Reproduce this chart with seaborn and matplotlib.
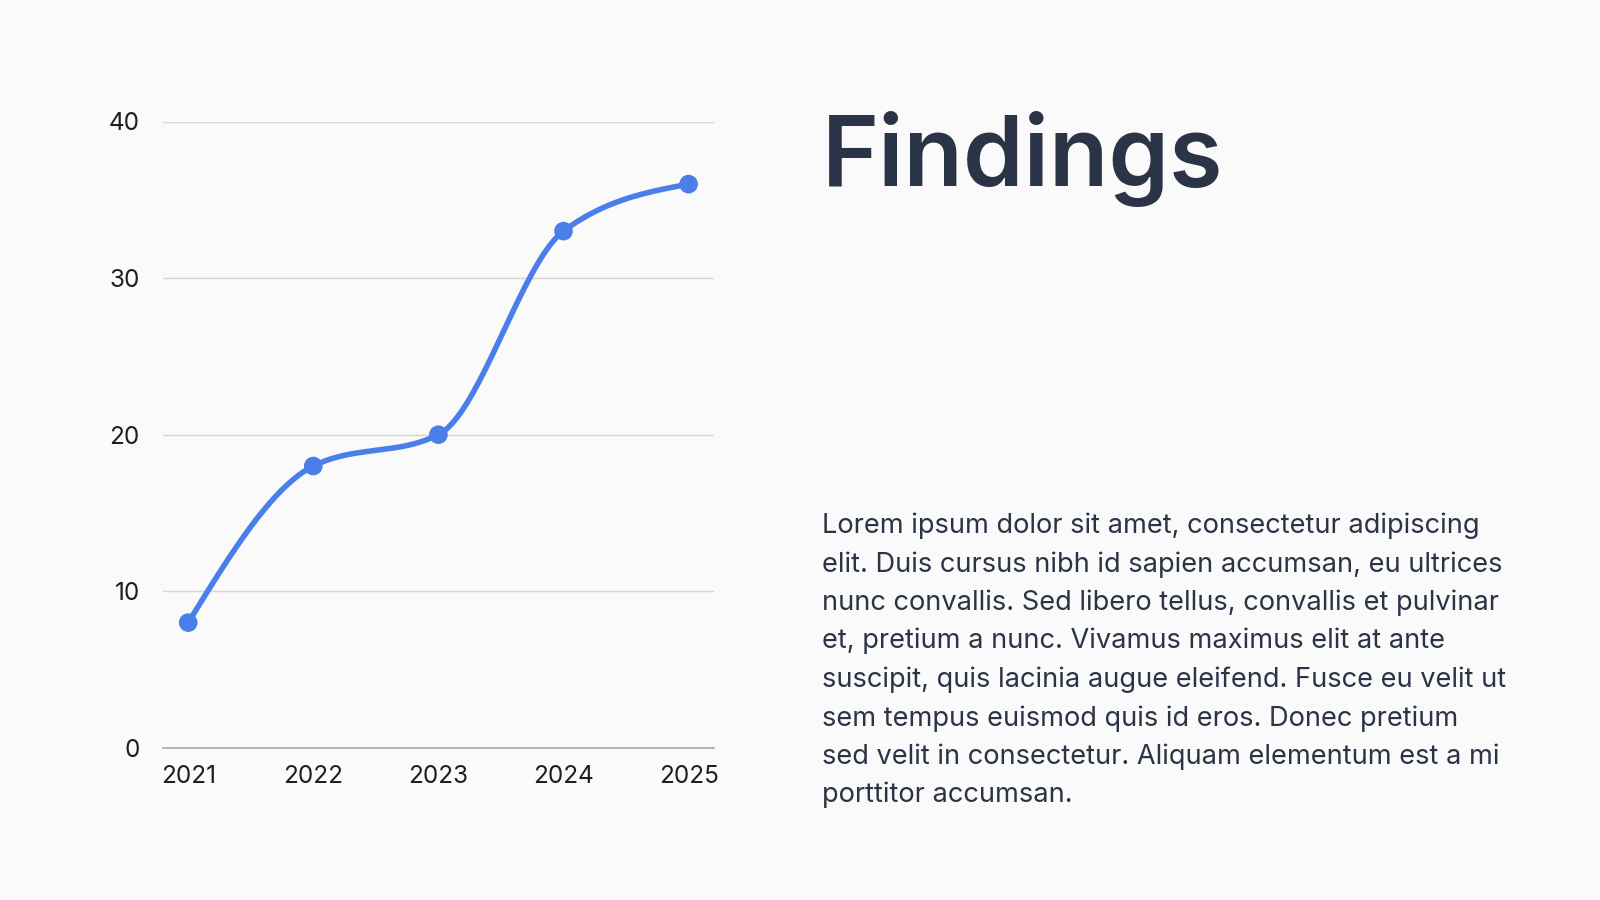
import matplotlib.pyplot as plt
import numpy as np
import seaborn as sns

years = ["2021", "2022", "2023", "2024", "2025"]
values = [8, 18, 20, 33, 36]
y_ticks = [0, 10, 20, 30, 40]

title = "Findings"
body_lines = [
    "Lorem ipsum dolor sit amet, consectetur adipiscing",
    "elit. Duis cursus nibh id sapien accumsan, eu ultrices",
    "nunc convallis. Sed libero tellus, convallis et pulvinar",
    "et, pretium a nunc. Vivamus maximus elit at ante",
    "suscipit, quis lacinia augue eleifend. Fusce eu velit ut",
    "sem tempus euismod quis id eros. Donec pretium",
    "sed velit in consectetur. Aliquam elementum est a mi",
    "porttitor accumsan.",
]

BG = "#fafafa"
LINE = "#4a7fea"
TEXT = "#2b3446"


def monotone_curve(x, y, steps=40):
    # monotone cubic (same idea as d3 curveMonotoneX) just for drawing the smooth line
    x = np.asarray(x, float)
    y = np.asarray(y, float)
    h = np.diff(x)
    s = np.diff(y) / h
    t = np.zeros_like(y)
    for i in range(1, len(x) - 1):
        p = (s[i - 1] * h[i] + s[i] * h[i - 1]) / (h[i - 1] + h[i])
        if s[i - 1] * s[i] <= 0:
            t[i] = 0
        else:
            t[i] = (np.sign(s[i - 1]) + np.sign(s[i])) * min(abs(s[i - 1]), abs(s[i]), 0.5 * abs(p))
    t[0] = (3 * s[0] - t[1]) / 2
    t[-1] = (3 * s[-1] - t[-2]) / 2
    xs, ys = [], []
    for i in range(len(x) - 1):
        u = np.linspace(0, 1, steps, endpoint=(i == len(x) - 2))
        h00 = 2 * u**3 - 3 * u**2 + 1
        h10 = u**3 - 2 * u**2 + u
        h01 = -2 * u**3 + 3 * u**2
        h11 = u**3 - u**2
        xs.append(x[i] + u * h[i])
        ys.append(h00 * y[i] + h10 * h[i] * t[i] + h01 * y[i + 1] + h11 * h[i] * t[i + 1])
    return np.concatenate(xs), np.concatenate(ys)


sns.set_theme(style="white")
plt.rcParams["font.family"] = ["Inter", "DejaVu Sans"]

fig = plt.figure(figsize=(16, 9), dpi=100, facecolor=BG)
ax = fig.add_axes([0.102, 0.169, 0.344, 0.696])
ax.set_facecolor(BG)

pos = np.arange(len(years))
cx, cy = monotone_curve(pos, values)
sns.lineplot(x=cx, y=cy, ax=ax, color=LINE, linewidth=4, sort=False)
sns.scatterplot(x=pos, y=values, ax=ax, color=LINE, s=180, edgecolor="none", zorder=3)

ax.set_xlim(-0.2, 4.2)
ax.set_ylim(0, 40)
ax.set_xticks(pos)
ax.set_xticklabels(years)
ax.set_yticks(y_ticks)
ax.yaxis.grid(True, color="#d6d6d6", linewidth=1)
ax.set_axisbelow(True)
for side in ["top", "right", "left"]:
    ax.spines[side].set_visible(False)
ax.spines["bottom"].set_color("#a8a8a8")
ax.spines["bottom"].set_linewidth(1.2)
ax.tick_params(axis="both", length=0, labelsize=17.5, colors="#1e1e1e")
ax.tick_params(axis="y", pad=17)
ax.tick_params(axis="x", pad=12)
ax.set_xlabel("")
ax.set_ylabel("")

fig.text(822 / 1600, 1 - 186 / 900, title, fontsize=70, fontweight="semibold",
         color=TEXT, va="baseline", ha="left")

for i, line in enumerate(body_lines):
    fig.text(822 / 1600, 1 - (533 + i * 38.5) / 900, line, fontsize=19.6,
             color=TEXT, va="baseline", ha="left")

fig.savefig("out.png", dpi=100, facecolor=BG)
